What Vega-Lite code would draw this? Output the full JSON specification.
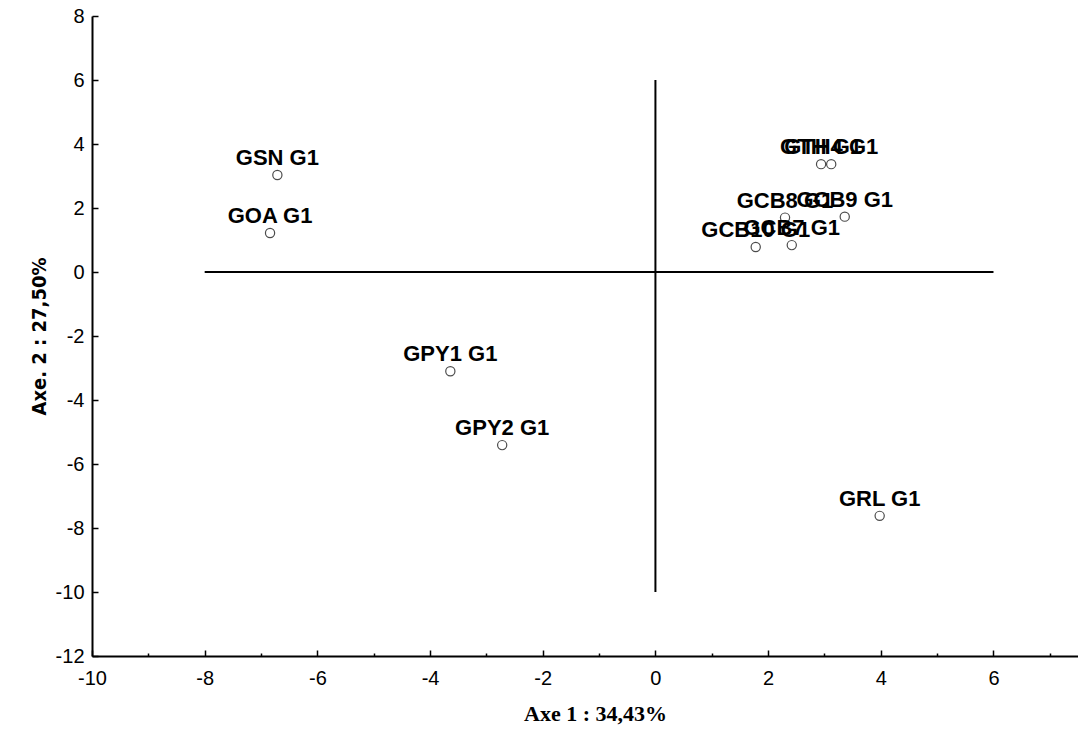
{
  "$schema": "https://vega.github.io/schema/vega-lite/v6.json",
  "width": 986,
  "height": 640,
  "autosize": {"type": "none"},
  "padding": {"left": 92, "top": 16, "right": 0, "bottom": 75},
  "background": "white",
  "datasets": {
    "pts": [
      {"name": "GSN G1", "ax1": -6.71, "ax2": 3.03},
      {"name": "GOA G1", "ax1": -6.84, "ax2": 1.22},
      {"name": "GPY1 G1", "ax1": -3.64, "ax2": -3.10},
      {"name": "GPY2 G1", "ax1": -2.72, "ax2": -5.41},
      {"name": "GRL G1", "ax1": 3.98, "ax2": -7.62},
      {"name": "GTH G1", "ax1": 2.94, "ax2": 3.37},
      {"name": "GTH4 G1", "ax1": 3.12, "ax2": 3.37},
      {"name": "GCB8 G1", "ax1": 2.30, "ax2": 1.70},
      {"name": "GCB9 G1", "ax1": 3.36, "ax2": 1.73},
      {"name": "GCB10 G1", "ax1": 1.78, "ax2": 0.78},
      {"name": "GCB7 G1", "ax1": 2.42, "ax2": 0.84}
    ],
    "cross": [
      {"x1": -8, "x2": 6, "y1": 0, "y2": 0},
      {"x1": 0, "x2": 0, "y1": -10, "y2": 6}
    ]
  },
  "layer": [
    {
      "data": {"name": "cross"},
      "mark": {"type": "rule", "color": "black", "strokeWidth": 2},
      "encoding": {
        "x": {"field": "x1", "type": "quantitative",
          "scale": {"domain": [-10, 7.5], "nice": false, "zero": false},
          "axis": {
            "title": "Axe 1 : 34,43%",
            "titleFont": "Liberation Serif",
            "titleFontSize": 22,
            "titleFontWeight": "bold",
            "titleColor": "black",
            "titlePadding": 15,
            "titleX": 503,
            "values": [-10, -9, -8, -7, -6, -5, -4, -3, -2, -1, 0, 1, 2, 3, 4, 5, 6, 7],
            "labelExpr": "datum.value % 2 == 0 ? '' + datum.value : ''",
            "labelFont": "Liberation Sans",
            "labelFontSize": 20,
            "labelColor": "black",
            "labelPadding": 18,
            "labelFlush": false,
            "grid": false,
            "domainColor": "black",
            "domainWidth": 2,
            "tickColor": "black",
            "tickWidth": 1.5,
            "tickSize": {"condition": {"test": "datum.value % 2 == 0", "value": -6}, "value": -3}
          }
        },
        "x2": {"field": "x2"},
        "y": {"field": "y1", "type": "quantitative",
          "scale": {"domain": [-12, 8], "nice": false, "zero": false},
          "axis": {
            "title": "Axe. 2 : 27,50%",
            "titleFont": "DejaVu Sans Condensed",
            "titleFontSize": 20,
            "titleFontWeight": "bold",
            "titleColor": "black",
            "titlePadding": 6,
            "values": [-12, -11, -10, -9, -8, -7, -6, -5, -4, -3, -2, -1, 0, 1, 2, 3, 4, 5, 6, 7, 8],
            "labelExpr": "datum.value % 2 == 0 ? '' + datum.value : ''",
            "labelFont": "Liberation Sans",
            "labelFontSize": 20,
            "labelColor": "black",
            "labelPadding": 14,
            "labelFlush": false,
            "grid": false,
            "domainColor": "black",
            "domainWidth": 2,
            "tickColor": "black",
            "tickWidth": 1.5,
            "tickSize": {"condition": {"test": "datum.value % 2 == 0", "value": -6}, "value": -3}
          }
        },
        "y2": {"field": "y2"}
      }
    },
    {
      "data": {"name": "pts"},
      "mark": {"type": "point", "shape": "circle", "filled": false, "color": "black", "strokeWidth": 1.2, "size": 85},
      "encoding": {
        "x": {"field": "ax1", "type": "quantitative"},
        "y": {"field": "ax2", "type": "quantitative"}
      }
    },
    {
      "data": {"name": "pts"},
      "mark": {"type": "text", "align": "center", "baseline": "alphabetic", "dy": -10, "font": "Liberation Sans", "fontSize": 22, "fontWeight": "bold", "color": "black"},
      "encoding": {
        "x": {"field": "ax1", "type": "quantitative"},
        "y": {"field": "ax2", "type": "quantitative"},
        "text": {"field": "name"}
      }
    }
  ],
  "config": {"view": {"stroke": null}}
}
